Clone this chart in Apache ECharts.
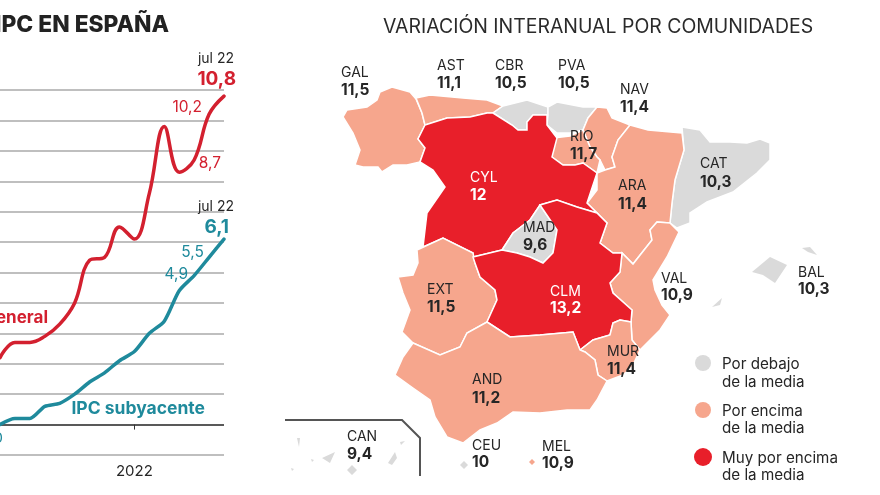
<!DOCTYPE html>
<html><head><meta charset="utf-8">
<style>html,body{margin:0;padding:0;background:#fff}#c{width:880px;height:495px}</style>
<script src="https://cdn.jsdelivr.net/npm/echarts@6/dist/echarts.min.js"></script>
</head><body><div id="c"></div>
<script>
const months=['abr 21','may 21','jun 21','jul 21','ago 21','sep 21','oct 21','nov 21','dic 21','ene 22','feb 22','mar 22','abr 22','may 22','jun 22','jul 22'];
const ipcGeneral=[2.2,2.7,2.7,2.9,3.3,4.0,5.4,5.5,6.5,6.1,7.6,9.8,8.3,8.7,10.2,10.8];
const ipcSubyacente=[0.0,0.2,0.2,0.6,0.7,1.0,1.4,1.7,2.1,2.4,3.0,3.4,4.4,4.9,5.5,6.1];
const regionCodes=['GAL','AST','CBR','PVA','NAV','RIO','CAT','ARA','CYL','MAD','VAL','BAL','EXT','CLM','MUR','AND','CEU','MEL','CAN'];
const regionValues=[11.5,11.1,10.5,10.5,11.4,11.7,10.3,11.4,12,9.6,10.9,10.3,11.5,13.2,11.4,11.2,10,10.9,9.4];
const legendLines=[['Por debajo','de la media'],['Por encima','de la media'],['Muy por encima','de la media']];
const GREY='#dadada',LIGHT='#f6a68d',STRONG='#e81f2a',RED='#d3202f',TEAL='#1f8a9c',INK='#262626';
const outlines={
GAL:[[[380,92],[392,87],[410,92],[416,99],[422,113],[425,125],[418,139],[425,148],[420,162],[407,165],[393,165],[382,172],[378,167],[363,167],[355,165],[360,150],[353,133],[343,117],[347,110],[367,107],[377,100]]],
AST:[[[416,98],[430,95],[463,98],[487,100],[503,106],[493,113],[487,113],[470,117],[447,118],[425,125],[422,113]]],
CBR:[[[503,106],[527,100],[548,107],[548,115],[533,115],[527,122],[527,130],[518,130],[512,125],[493,113]]],
PVA:[[[548,107],[557,102],[583,107],[597,107],[588,118],[583,130],[570,133],[557,133],[547,125],[548,115]]],
NAV:[[[597,107],[607,108],[612,118],[630,125],[618,140],[612,157],[615,167],[605,170],[600,160],[597,157],[590,147],[583,130],[588,118]]],
RIO:[[[553,138],[570,136],[583,130],[590,147],[597,157],[600,160],[597,173],[583,163],[575,165],[563,165],[552,157]]],
CAT:[[[682,127],[700,130],[710,142],[730,142],[747,143],[760,139],[770,143],[770,160],[757,173],[733,192],[707,202],[690,213],[690,223],[677,228],[670,223],[672,203],[675,180],[684,150]]],
ARA:[[[630,125],[648,130],[682,133],[684,150],[675,180],[672,203],[670,223],[657,222],[650,230],[652,240],[633,264],[622,253],[613,253],[600,243],[607,223],[597,213],[587,203],[597,190],[597,173],[605,170],[615,167],[612,157],[618,140]]],
CYL:[[[493,113],[512,125],[518,130],[527,130],[527,122],[533,115],[547,115],[547,125],[557,138],[552,157],[563,165],[575,165],[583,163],[597,173],[587,203],[597,213],[577,207],[557,200],[540,205],[530,220],[513,233],[502,250],[473,257],[473,253],[443,238],[423,247],[427,213],[445,187],[433,170],[420,162],[425,148],[418,139],[425,125],[447,118],[470,117],[487,113]]],
MAD:[[[540,205],[557,230],[553,253],[543,263],[530,257],[517,253],[502,250],[513,233],[530,220]]],
CLM:[[[473,257],[502,250],[517,253],[530,257],[543,263],[553,253],[557,230],[540,205],[557,200],[577,207],[597,213],[607,223],[600,243],[613,253],[622,253],[620,272],[610,283],[613,293],[632,310],[631,322],[620,320],[613,323],[610,335],[593,340],[580,350],[573,332],[540,335],[510,337],[487,322],[497,300],[495,290],[480,277],[475,263]]],
VAL:[[[657,222],[670,223],[679,232],[667,257],[653,280],[655,290],[662,305],[670,315],[660,330],[650,340],[640,350],[632,340],[631,322],[632,310],[613,293],[610,283],[620,272],[622,253],[633,264],[652,240],[650,230]]],
EXT:[[[417,250],[443,238],[473,253],[475,263],[480,277],[495,290],[497,300],[487,322],[467,333],[460,347],[440,355],[413,343],[402,332],[410,310],[403,293],[398,277],[413,275],[418,263]]],
MUR:[[[613,323],[620,320],[631,322],[632,340],[640,350],[632,367],[623,375],[607,381],[598,375],[595,360],[585,352],[580,350],[593,340],[610,335]]],
AND:[[[487,322],[510,337],[540,335],[573,332],[580,350],[585,352],[595,360],[598,375],[607,381],[597,400],[590,410],[567,410],[540,413],[513,412],[497,423],[480,430],[463,443],[447,437],[435,417],[430,400],[413,388],[395,375],[403,357],[413,343],[440,355],[460,347],[467,333]]],
BAL:[[[752,272],[770,257],[787,265],[775,283],[763,275]],[[802,248],[810,247],[817,255],[808,252]],[[712,307],[722,298],[720,305]]],
CEU:[[[464,461],[468,465],[464,469],[460,465]]],
MEL:[[[532,459],[535,462],[532,465],[529,462]]],
CAN:[[[322,458],[335,452],[330,463]],[[352,465],[357,470],[352,475],[347,470]],[[395,452],[397,458],[392,465],[388,463]],[[400,442],[405,441],[401,445]],[[297,438],[300,438],[299,447]],[[311,459],[314,460],[312,462]],[[291,468],[294,469],[292,471]]]
};
const labelAt={GAL:[341,72,89],AST:[437,65,82],CBR:[495,65,82],PVA:[558,65,82],NAV:[620,89,106],RIO:[570,136,153],CAT:[700,163,181],ARA:[618,185,203],CYL:[470,177,194],MAD:[523,227,244],VAL:[661,278,294],BAL:[798,272,288],EXT:[427,289,306],CLM:[550,291,307],MUR:[607,351,368],AND:[472,379,397],CEU:[472,445,461],MEL:[542,446,462],CAN:[347,436,453]};

const FONT='Inter, Roboto, sans-serif';
function colorOf(v){return v<10.8?GREY:(v<12?LIGHT:STRONG);}
function comma(v){return String(v).replace('.',',');}
function t(text,x,y,size,weight,fill,align){return {type:'text',x:x,y:y+1,silent:true,z:10,style:{text:text,fontFamily:FONT,fontSize:size,fontWeight:weight,fill:fill,align:align||'left',verticalAlign:'middle'}};}

const features=regionCodes.map(c=>({type:'Feature',properties:{name:c},geometry:{type:'MultiPolygon',coordinates:outlines[c].map(r=>[r.concat([r[0]]).map(p=>[p[0],495-p[1]])])}}));
echarts.registerMap('spain',{type:'FeatureCollection',features:features});

const g=[
 t('IPC EN ESPAÑA',169,24,22.8,'800','#222','right'),
 t('VARIACIÓN INTERANUAL POR COMUNIDADES',383,26,19.45,'400','#2a2a2a'),
 t('jul 22',234,58,14,'400',INK,'right'),
 t('10,8',236,78,19,'700',RED,'right'),
 t('10,2',202,106,15.5,'400',RED,'right'),
 t('8,7',221,162,15.5,'400',RED,'right'),
 t('jul 22',234,206,14,'400',INK,'right'),
 t('6,1',229,226,19,'700',TEAL,'right'),
 t('5,5',204,251,15.5,'400',TEAL,'right'),
 t('4,9',188,273,15.5,'400',TEAL,'right'),
 t('IPC general',48,317,17,'700',RED,'right'),
 t('IPC subyacente',205,408,17.5,'700',TEAL,'right'),
 t('0',3,437,15,'400',TEAL,'right'),
 {type:'polyline',silent:true,z:5,shape:{points:[[285,420],[402,420],[420,438],[420,476]]},style:{stroke:'#555',lineWidth:2,fill:null}}
];
regionCodes.forEach((c,i)=>{
  const p=labelAt[c],col=(colorOf(regionValues[i])===STRONG)?'#fff':INK;
  g.push(t(c,p[0],p[1],14,'400',col));
  g.push(t(comma(regionValues[i]),p[0],p[2],15.5,'700',col));
});
[GREY,LIGHT,STRONG].forEach((col,i)=>{
  const ys=[[363,381],[410,427],[457,474]][i];
  g.push({type:'circle',silent:true,shape:{cx:703,cy:ys[0],r:i==2?9:8},style:{fill:col}});
  g.push(t(legendLines[i][0],722,ys[0],15.2,'400',INK));
  g.push(t(legendLines[i][1],722,ys[1],15.2,'400',INK));
});

const chart=echarts.init(document.getElementById('c'),null,{renderer:'canvas'});
chart.setOption({
 animation:false,backgroundColor:'#fff',
 grid:{left:0,right:656,top:90,bottom:40,containLabel:false},
 xAxis:{type:'category',data:months,boundaryGap:false,
  axisLine:{show:false},
  axisTick:{show:true,length:5,interval:(i,v)=>v==='ene 22',lineStyle:{color:'#333',width:1}},
  axisLabel:{show:true,interval:(i,v)=>v==='ene 22',formatter:v=>v==='ene 22'?'2022':'',color:INK,fontFamily:FONT,fontSize:15,margin:9},
  splitLine:{show:false}},
 yAxis:{type:'value',min:-1,max:11,interval:1,axisLine:{show:false},axisTick:{show:false},axisLabel:{show:false},
  splitLine:{show:true,showMinLine:true,showMaxLine:true,lineStyle:{width:1.5,color:['#aaa','#222','#aaa','#aaa','#aaa','#aaa','#aaa','#aaa','#aaa','#aaa','#aaa','#aaa','#aaa']}}},
 geo:{map:'spain',aspectScale:1,boundingCoords:[[0,495],[880,0]],left:0,top:0,width:880,height:495,roam:false,silent:true,
  label:{show:false},
  itemStyle:{areaColor:GREY,borderColor:'#fff',borderWidth:1.5},
  regions:regionCodes.map((c,i)=>({name:c,itemStyle:{areaColor:colorOf(regionValues[i]),borderColor:'#fff',borderWidth:(c==='CEU'||c==='MEL'||c==='CAN'||c==='BAL')?0:1.5}}))},
 series:[
  {name:'IPC general',type:'line',data:ipcGeneral,smooth:0.4,symbol:'none',lineStyle:{color:RED,width:3.5,cap:'round'},z:4},
  {name:'IPC subyacente',type:'line',data:ipcSubyacente,smooth:0.25,symbol:'none',lineStyle:{color:TEAL,width:3.5,cap:'round'},z:4}
 ],
 graphic:g
});
</script></body></html>
